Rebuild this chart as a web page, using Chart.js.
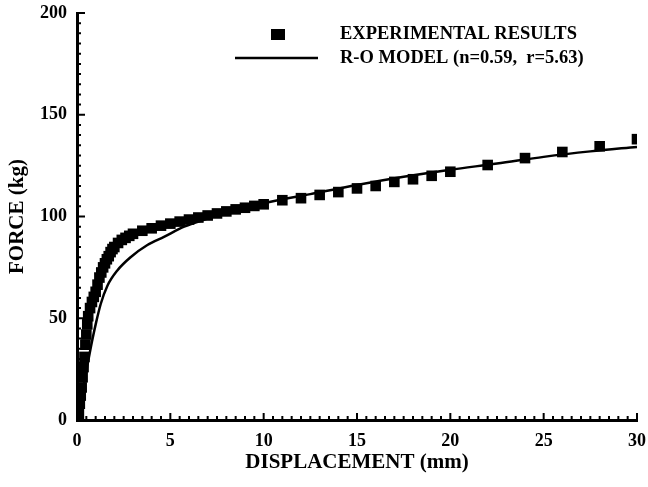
<!DOCTYPE html>
<html>
<head>
<meta charset="utf-8">
<script src="https://cdn.jsdelivr.net/npm/chart.js@4"></script>
<style>
  html, body { margin: 0; padding: 0; background: #fff; }
  #wrap { width: 648px; height: 487px; }
</style>
</head>
<body>
<div id="wrap"><canvas id="chart" width="648" height="487"></canvas></div>
<script>
// Experimental force-displacement points
const expX = [0, 0.1, 0.15, 0.2, 0.25, 0.3, 0.35, 0.4, 0.45, 0.5, 0.55, 0.6, 0.7, 0.8, 0.9,
  1.0, 1.1, 1.2, 1.3, 1.4, 1.5, 1.6, 1.7, 1.8, 1.9, 2.0, 2.2, 2.4, 2.6, 2.8, 3.0,
  3.5, 4.0, 4.5, 5.0, 5.5, 6.0, 6.5, 7.0, 7.5, 8.0, 8.5, 9.0, 9.5, 10,
  11, 12, 13, 14, 15, 16, 17, 18, 19, 20, 22, 24, 26, 28, 30];
const expY = [0, 3, 8, 12, 16, 21, 26, 31, 37, 42, 47, 51, 55, 58, 60.5,
  63, 66.5, 70, 72.5, 75, 77, 79, 80.5, 82.5, 84, 85, 87, 88.5, 89.5, 90.5, 91.5,
  93, 94.2, 95.5, 96.5, 97.5, 98.5, 99.5, 100.5, 101.5, 102.5, 103.5, 104.3, 105.2, 106,
  108, 109, 110.6, 112, 113.8, 115, 117, 118.3, 120, 122, 125.3, 128.7, 131.7, 134.5, 138];

// R-O model curve
const modelX = [0, 0.2, 0.4, 0.6, 0.8, 1.0, 1.27, 1.63, 2.16, 2.87, 3.77, 4.66, 5.74,
  7, 8.5, 10, 12.5, 15, 17.5, 20, 22.5, 25, 27.5, 30];
const modelY = [0, 9.5, 19, 29, 38.5, 47, 57, 66, 73.5, 80, 86, 90, 95,
  99, 103, 106.5, 111, 115.5, 119.5, 123, 126, 129.3, 132, 134.2];

const xTicks = [0, 5, 10, 15, 20, 25, 30];
const yTicks = [0, 50, 100, 150, 200];
const seriesNames = ['EXPERIMENTAL RESULTS', 'R-O MODEL (n=0.59,  r=5.63)'];

const FONT = '"Liberation Serif", "DejaVu Serif", serif';

function toPoints(xs, ys) {
  return xs.map((x, i) => ({ x: x, y: ys[i] }));
}

// inward minor/major ticks on both axes plus the in-plot legend
const axisDecor = {
  id: 'axisDecor',
  afterDraw(chart) {
    const ctx = chart.ctx;
    const xs = chart.scales.x, ys = chart.scales.y;
    const left = chart.chartArea.left, bottom = chart.chartArea.bottom;
    ctx.save();
    ctx.strokeStyle = '#000';
    ctx.lineWidth = 2;
    ctx.beginPath();
    for (let v = 0; v <= 30.001; v += 0.5) {
      const px = xs.getPixelForValue(v);
      const len = Math.abs(v % 5) < 0.01 ? 7 : 4;
      ctx.moveTo(px, bottom);
      ctx.lineTo(px, bottom - len);
    }
    for (let v = 0; v <= 200.001; v += 5) {
      const py = ys.getPixelForValue(v);
      const len = Math.abs(v % 50) < 0.01 ? 8 : 4;
      ctx.moveTo(left, py);
      ctx.lineTo(left + len, py);
    }
    ctx.stroke();

    // legend
    ctx.fillStyle = '#000';
    ctx.fillRect(271, 29, 14, 11);
    ctx.lineWidth = 2.5;
    ctx.beginPath();
    ctx.moveTo(235, 58);
    ctx.lineTo(318, 58);
    ctx.stroke();
    ctx.font = 'bold 18.5px ' + FONT;
    ctx.textBaseline = 'middle';
    ctx.textAlign = 'left';
    ctx.fillText(seriesNames[0], 340, 34);
    ctx.fillText(seriesNames[1], 340, 58);
    ctx.restore();
  }
};

new Chart(document.getElementById('chart'), {
  type: 'scatter',
  data: {
    datasets: [
      {
        label: seriesNames[0],
        data: toPoints(expX, expY),
        pointStyle: 'rect',
        pointRadius: 7.5,
        backgroundColor: '#000',
        borderColor: '#000',
        borderWidth: 0,
        showLine: false
      },
      {
        label: seriesNames[1],
        data: toPoints(modelX, modelY),
        showLine: true,
        pointRadius: 0,
        borderColor: '#000',
        borderWidth: 2.5,
        cubicInterpolationMode: 'monotone',
        fill: false
      }
    ]
  },
  options: {
    responsive: false,
    animation: false,
    layout: { padding: { top: 13, right: 11, left: 0, bottom: 0 } },
    plugins: {
      legend: { display: false },
      tooltip: { enabled: false }
    },
    scales: {
      x: {
        type: 'linear',
        min: 0,
        max: 30,
        afterFit(scale) {
          scale.height = 67;
          scale.paddingLeft = 0;
          scale.paddingRight = 0;
        },
        afterBuildTicks(scale) { scale.ticks = xTicks.map(v => ({ value: v })); },
        grid: { display: false, drawTicks: false },
        border: { display: true, color: '#000', width: 3 },
        ticks: {
          color: '#000',
          padding: 11,
          font: { family: FONT, size: 18, weight: 'bold' }
        },
        title: {
          display: true,
          text: 'DISPLACEMENT (mm)',
          color: '#000',
          padding: { top: 0, bottom: 12 },
          font: { family: FONT, size: 21, weight: 'bold' }
        }
      },
      y: {
        type: 'linear',
        min: 0,
        max: 200,
        afterFit(scale) {
          scale.width = 77;
          scale.paddingTop = 0;
          scale.paddingBottom = 0;
        },
        afterBuildTicks(scale) { scale.ticks = yTicks.map(v => ({ value: v })); },
        grid: { display: false, drawTicks: false },
        border: { display: true, color: '#000', width: 3 },
        ticks: {
          color: '#000',
          padding: 10,
          font: { family: FONT, size: 18, weight: 'bold' }
        },
        title: {
          display: true,
          text: 'FORCE (kg)',
          color: '#000',
          padding: { top: 5, bottom: 0 },
          font: { family: FONT, size: 21, weight: 'bold' }
        }
      }
    }
  },
  plugins: [axisDecor]
});
</script>
</body>
</html>
